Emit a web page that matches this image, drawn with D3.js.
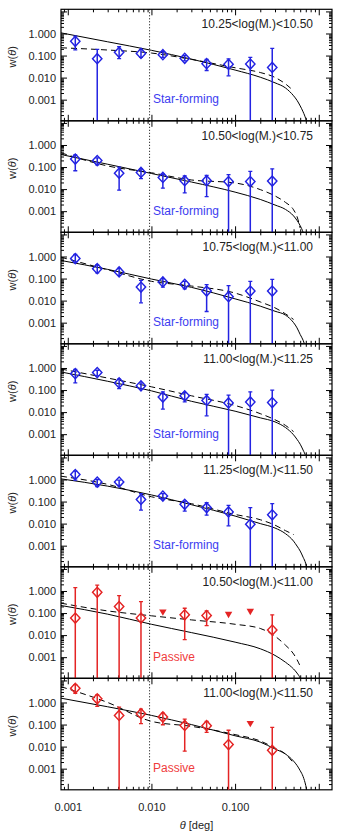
<!DOCTYPE html>
<html>
<head>
<meta charset="utf-8">
<script src="https://cdn.jsdelivr.net/npm/d3@7"></script>
<style>
  body { margin: 0; background: #fff; }
  text { font-family: "Liberation Sans", Arial, Helvetica, sans-serif; }
</style>
</head>
<body>
<div id="chart"></div>
<script>
// mass bins and sample of each panel
var massLabels = ['10.25<log(M.)<10.50', '10.50<log(M.)<10.75', '10.75<log(M.)<11.00',
                  '11.00<log(M.)<11.25', '11.25<log(M.)<11.50', '10.50<log(M.)<11.00',
                  '11.00<log(M.)<11.50'];
var sampleLabels = ['Star-forming', 'Star-forming', 'Star-forming', 'Star-forming',
                    'Star-forming', 'Passive', 'Passive'];

// angular bins [deg]
var thetaBins = [0.00123, 0.00225, 0.00411, 0.0075, 0.0137, 0.025, 0.0457, 0.0835, 0.152, 0.278];

// measured w(theta), null = upper limit only
var wObs = [
  [0.44, 0.072, 0.14, 0.125, 0.11, 0.075, 0.043, 0.04, 0.041, 0.029],
  [0.23, 0.197, 0.053, 0.057, 0.034, 0.024, 0.024, 0.022, 0.022, 0.023],
  [0.81, 0.28, 0.2, 0.041, 0.07, 0.055, 0.027, 0.015, 0.027, 0.027],
  [0.55, 0.62, 0.21, 0.155, 0.048, 0.055, 0.034, 0.026, 0.029, 0.027],
  [1.68, 0.76, 0.76, 0.125, 0.177, 0.075, 0.053, 0.034, 0.0093, 0.025],
  [0.059, 0.87, 0.196, 0.059, null, 0.083, 0.077, null, null, 0.017],
  [4.4, 1.46, 0.26, 0.31, 0.22, 0.091, 0.089, 0.0123, null, 0.0068]
];
// upper end of the error bars
var wHi = [
  [0.76, 0.19, 0.25, 0.19, 0.15, 0.099, 0.067, 0.07, 0.083, 0.21],
  [0.355, 0.26, 0.1, 0.083, 0.048, 0.04, 0.042, 0.045, 0.063, 0.083],
  [1.23, 0.42, 0.29, 0.083, 0.099, 0.075, 0.053, 0.048, 0.075, 0.092],
  [0.87, 0.79, 0.31, 0.21, 0.083, 0.077, 0.063, 0.059, 0.083, 0.1],
  [2.4, 1.0, 0.93, 0.23, 0.23, 0.105, 0.089, 0.067, 0.053, 0.08],
  [1.41, 1.86, 0.62, 0.33, null, 0.165, 0.125, null, null, 0.083],
  [6.5, 2.2, 0.62, 0.5, 0.33, 0.177, 0.14, 0.055, null, 0.075]
];
// lower end of the error bars, 0 = below zero (bar runs off the panel)
var wLo = [
  [0.18, 0, 0.072, 0.083, 0.083, 0.057, 0.021, 0.012, 0, 0],
  [0.068, 0.126, 0.0089, 0.03, 0.011, 0.0067, 0.0046, 0, 0, 0],
  [0.54, 0.18, 0.14, 0.0079, 0.041, 0.034, 0.0032, 0, 0, 0],
  [0.21, 0.44, 0.117, 0.11, 0.0137, 0.029, 0.0068, 0, 0, 0],
  [0.93, 0.47, 0.54, 0.041, 0.134, 0.037, 0.024, 0.0079, 0, 0],
  [0, 0, 0, 0, null, 0.0062, 0.027, null, null, 0],
  [2.6, 0.66, 0, 0.11, 0.098, 0.0062, 0.044, 0, null, 0]
];
// upper limits (filled triangles)
var wLimit = [
  [], [], [], [], [],
  [null, null, null, null, 0.117, null, null, 0.092, 0.125, null],
  [null, null, null, null, null, null, null, null, 0.117, null]
];

// model curves
var modelTheta = [0.00083, 0.003, 0.01, 0.03, 0.1, 0.2, 0.3, 0.4, 0.5, 0.55, 0.6, 0.65, 0.7, 0.75];
var wSolid = [
  [1.07, 0.42, 0.173, 0.069, 0.022, 0.0104, 0.0058, 0.0034, 0.0015, 0.00093, 0.00052, 0.00028, 0.000135, 0.00005],
  [0.37, 0.134, 0.051, 0.021, 0.0073, 0.0034, 0.0019, 0.0012, 0.00061, 0.00038, 0.00022, 0.00011, 0.00004, 0.00002],
  [0.66, 0.26, 0.095, 0.04, 0.012, 0.0056, 0.0033, 0.0022, 0.001, 0.00058, 0.00029, 0.00016, 0.00007, 0.00003],
  [0.66, 0.25, 0.092, 0.031, 0.011, 0.0055, 0.0036, 0.002, 0.00093, 0.00058, 0.00035, 0.00019, 0.0001, 0.00004],
  [1.07, 0.5, 0.2, 0.072, 0.022, 0.01, 0.0063, 0.0035, 0.0016, 0.00096, 0.00057, 0.0003, 0.00015, 0.00004],
  [0.22, 0.089, 0.031, 0.013, 0.0048, 0.0024, 0.0012, 0.00059, 0.00029, 0.00019, 0.00011, 0.00004, 0.00002, 0.00001],
  [1.57, 0.64, 0.26, 0.1, 0.031, 0.016, 0.0078, 0.0046, 0.0022, 0.0014, 0.00081, 0.00044, 0.00017, 0.00004]
];
var wDashed = [
  [0.225, 0.178, 0.13, 0.067, 0.028, 0.017, 0.0102, 0.0052, 0.0025, null, null, null, null, null],
  [0.44, 0.112, 0.055, 0.026, 0.019, 0.0095, 0.0049, 0.0025, 0.00115, 0.00057, 0.00017, null, null, null],
  [0.93, 0.25, 0.075, 0.046, 0.022, 0.0087, 0.0047, 0.0025, 0.0014, null, null, null, null, null],
  [0.9, 0.35, 0.14, 0.055, 0.02, 0.0085, 0.0045, 0.0025, 0.0013, null, null, null, null, null],
  [1.41, 0.6, 0.165, 0.08, 0.026, 0.015, 0.0085, 0.0048, 0.0032, null, null, null, null, null],
  [0.28, 0.125, 0.075, 0.049, 0.031, 0.02, 0.0089, 0.0035, 0.0014, 0.00077, 0.00039, null, null, null],
  [5.2, 1.0, 0.14, 0.083, 0.035, 0.018, 0.0085, 0.0046, 0.0018, null, null, null, null, null]
];
var thetaLimit = 0.0095;
var xTickLabels = [0.001, 0.01, 0.1];
var yTickLabels = [0.001, 0.01, 0.1, 1];

var width = 337, height = 834;
var left = 61, right = 332, top0 = 9.3, panelH = 111.5;
var blue = '#2323e2', red = '#e42424';

var svg = d3.select('#chart').append('svg')
  .attr('width', width).attr('height', height);

var x = d3.scaleLog().domain([0.00083, 1.44]).range([left, right]);
var xMajor = [0.001, 0.01, 0.1, 1];
var xMinor = x.ticks().filter(function(t) { return xMajor.indexOf(t) < 0; });
var fmt = d3.format('.3f');

var line = d3.line()
  .defined(function(d) { return d[1] != null; })
  .curve(d3.curveMonotoneX);

massLabels.forEach(function(label, i) {
  var top = top0 + i * panelH, bottom = top + panelH;
  var y = d3.scaleLog().domain([1.1e-4, 12.5]).range([bottom, top]);
  var yMajor = [0.001, 0.01, 0.1, 1, 10];
  var yMinor = y.ticks().filter(function(t) {
    return Math.abs(Math.log10(t) - Math.round(Math.log10(t))) > 1e-6;
  });
  var col = i < 5 ? blue : red;
  var g = svg.append('g');

  g.append('clipPath').attr('id', 'clip' + i)
    .append('rect').attr('x', left).attr('y', top).attr('width', right - left).attr('height', panelH);

  // axes, ticks pointing inward
  function addAxis(axis, tf, isMajor, labels) {
    var a = g.append('g').attr('transform', tf)
      .call(axis.tickSizeInner(isMajor ? -6 : -3).tickSizeOuter(0));
    a.select('.domain').remove();
    a.selectAll('line').attr('stroke', '#000').attr('stroke-width', 1);
    a.selectAll('text').attr('font-size', 11).attr('fill', '#222')
      .attr('font-family', '"Liberation Sans", Arial, sans-serif');
    if (!labels) a.selectAll('text').remove();
    return a;
  }
  addAxis(d3.axisLeft(y).tickValues(yMajor).tickPadding(5)
    .tickFormat(function(d) { return yTickLabels.indexOf(d) >= 0 ? fmt(d) : ''; }),
    'translate(' + left + ',0)', true, true);
  addAxis(d3.axisLeft(y).tickValues(yMinor), 'translate(' + left + ',0)', false, false);
  addAxis(d3.axisRight(y).tickValues(yMajor), 'translate(' + right + ',0)', true, false);
  addAxis(d3.axisRight(y).tickValues(yMinor), 'translate(' + right + ',0)', false, false);
  addAxis(d3.axisTop(x).tickValues(xMajor), 'translate(0,' + top + ')', true, false);
  addAxis(d3.axisTop(x).tickValues(xMinor), 'translate(0,' + top + ')', false, false);
  addAxis(d3.axisBottom(x).tickValues(xMajor).tickPadding(13)
    .tickFormat(function(d) { return xTickLabels.indexOf(d) >= 0 ? fmt(d) : ''; }),
    'translate(0,' + bottom + ')', true, i === massLabels.length - 1);
  addAxis(d3.axisBottom(x).tickValues(xMinor), 'translate(0,' + bottom + ')', false, false);

  g.append('rect')
    .attr('x', left).attr('y', top).attr('width', right - left).attr('height', panelH)
    .attr('fill', 'none').attr('stroke', '#000').attr('stroke-width', 1.2);

  var plot = g.append('g').attr('clip-path', 'url(#clip' + i + ')');

  // fibre-collision limit
  plot.append('line')
    .attr('x1', x(thetaLimit)).attr('x2', x(thetaLimit))
    .attr('y1', top).attr('y2', bottom)
    .attr('stroke', '#000').attr('stroke-width', 1).attr('stroke-dasharray', '1,2');

  line.x(function(d) { return x(d[0]); }).y(function(d) { return y(d[1]); });
  plot.append('path')
    .attr('d', line(modelTheta.map(function(t, j) { return [t, wSolid[i][j]]; })))
    .attr('fill', 'none').attr('stroke', '#000').attr('stroke-width', 1);
  plot.append('path')
    .attr('d', line(modelTheta.map(function(t, j) { return [t, wDashed[i][j]]; })))
    .attr('fill', 'none').attr('stroke', '#000').attr('stroke-width', 1)
    .attr('stroke-dasharray', '6,4');

  // error bars
  thetaBins.forEach(function(t, j) {
    if (wObs[i][j] == null) return;
    var cx = x(t);
    var yHi = y(wHi[i][j]);
    var yLo = wLo[i][j] > 0 ? y(wLo[i][j]) : bottom + 2;
    plot.append('line').attr('x1', cx).attr('x2', cx).attr('y1', yHi).attr('y2', yLo)
      .attr('stroke', col).attr('stroke-width', 1.5);
    plot.append('line').attr('x1', cx - 2).attr('x2', cx + 2).attr('y1', yHi).attr('y2', yHi)
      .attr('stroke', col).attr('stroke-width', 1.3);
    if (wLo[i][j] > 0) {
      plot.append('line').attr('x1', cx - 2).attr('x2', cx + 2).attr('y1', yLo).attr('y2', yLo)
        .attr('stroke', col).attr('stroke-width', 1.3);
    }
  });

  // diamonds
  plot.selectAll('.pt')
    .data(thetaBins.map(function(t, j) { return [t, wObs[i][j]]; })
      .filter(function(d) { return d[1] != null; }))
    .enter().append('path')
    .attr('d', d3.symbol().type(d3.symbolSquare).size(44))
    .attr('transform', function(d) {
      return 'translate(' + x(d[0]) + ',' + y(d[1]) + ') scale(1,1.08) rotate(45)';
    })
    .attr('fill', 'none').attr('stroke', col).attr('stroke-width', 1.4);

  // upper limits
  plot.selectAll('.lim')
    .data(thetaBins.map(function(t, j) { return [t, wLimit[i][j]]; })
      .filter(function(d) { return d[1] != null; }))
    .enter().append('path')
    .attr('d', d3.symbol().type(d3.symbolTriangle).size(24))
    .attr('transform', function(d) {
      return 'translate(' + x(d[0]) + ',' + y(d[1]) + ') rotate(180)';
    })
    .attr('fill', col);

  g.append('text')
    .attr('x', 313).attr('y', top + 19)
    .attr('text-anchor', 'end').attr('font-size', 12).attr('fill', '#222')
    .text(label);
  g.append('text')
    .attr('x', 153).attr('y', top + 93.7)
    .attr('font-size', 12).attr('fill', i < 5 ? '#3d3df0' : '#ef3c3c')
    .text(sampleLabels[i]);

  var yt = g.append('text')
    .attr('transform', 'translate(15.5,' + (top + 47.5) + ') rotate(-90)')
    .attr('text-anchor', 'middle').attr('font-size', 11).attr('fill', '#222');
  yt.append('tspan').text('w(');
  yt.append('tspan').attr('font-style', 'italic').text('θ');
  yt.append('tspan').text(')');
});

var xt = svg.append('text')
  .attr('x', (left + right) / 2).attr('y', 829)
  .attr('text-anchor', 'middle').attr('font-size', 11).attr('fill', '#222');
xt.append('tspan').attr('font-style', 'italic').text('θ');
xt.append('tspan').text(' [deg]');
</script>
</body>
</html>
